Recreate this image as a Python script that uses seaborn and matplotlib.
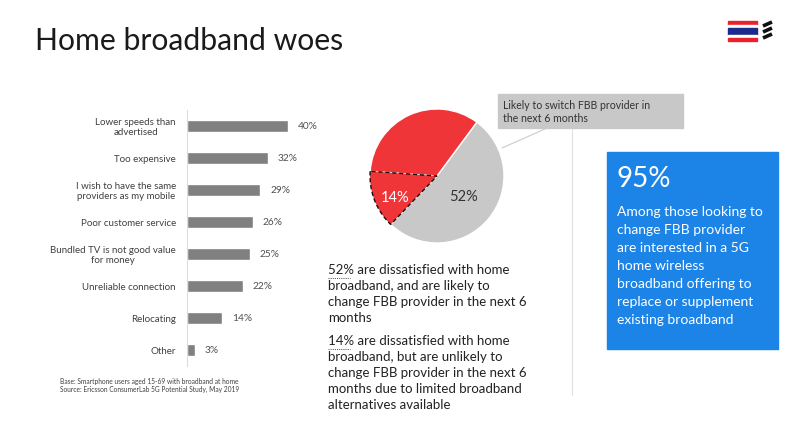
import matplotlib
matplotlib.use("Agg")
import matplotlib.pyplot as plt
import matplotlib.patches as mpatches
from matplotlib.lines import Line2D
import seaborn as sns
import pandas as pd

# --- dati ---
reasons = ["Lower speeds than\nadvertised", "Too expensive",
           "I wish to have the same\nproviders as my mobile", "Poor customer service",
           "Bundled TV is not good value\nfor money", "Unreliable connection",
           "Relocating", "Other"]
shares = [40, 32, 29, 26, 25, 22, 14, 3]

pie_labels = ["52%", "14%", ""]
pie_values = [52, 14, 34]

W, H = 800, 436


def fx(x):
    return x / W


def fy(y):
    return 1 - y / H


sns.set_theme(style="white")
plt.rcParams["font.family"] = ["Lato", "DejaVu Sans"]

fig = plt.figure(figsize=(8, 4.36), dpi=100)
fig.patch.set_facecolor("white")

# --- titolo ---
fig.text(fx(35), fy(50), "Home broadband woes", fontsize=21.7, color="#1a1a1a",
         va="baseline", ha="left")

# --- logo / bandiera ---
stripes = [(21.5, 25, "#E8212B"), (25, 27.7, "white"), (27.7, 35, "#1C2A8C"),
           (35, 37.7, "white"), (37.7, 41, "#E8212B")]
for y0, y1, c in stripes:
    fig.patches.append(mpatches.Rectangle((fx(728), fy(y1)), fx(757) - fx(728), fy(y0) - fy(y1),
                                          transform=fig.transFigure, color=c, zorder=5))
for yb in [24, 30, 36]:
    fig.lines.append(Line2D([fx(763), fx(772)], [fy(yb + 2), fy(yb - 2)], color="#111111",
                            lw=2.6, transform=fig.transFigure, solid_capstyle="butt"))

# --- bar chart ---
df = pd.DataFrame({"reason": reasons, "share": shares})
ax = fig.add_axes([fx(187), fy(366), fx(140), 256 / H])
sns.barplot(data=df, x="share", y="reason", color="#808080", width=0.38, ax=ax,
            saturation=1, orient="h")
ax.set_xlim(0, 140 / 2.53)
ax.set_ylim(7.5, -0.5)
ax.set_xlabel("")
ax.set_ylabel("")
ax.set_xticks([])
for s in ["top", "right", "bottom"]:
    ax.spines[s].set_visible(False)
ax.spines["left"].set_color("#DDDDDD")
ax.spines["left"].set_linewidth(0.8)
ax.tick_params(axis="y", length=0, pad=8, labelsize=7, labelcolor="#404040")
for t in ax.get_yticklabels():
    t.set_multialignment("center")
for i, v in enumerate(shares):
    ax.annotate(f"{v}%", (v, i), xytext=(7, 0), textcoords="offset points",
                va="center", ha="left", fontsize=7.3, color="#505050")
ax.patch.set_alpha(0)

# --- nota ---
fig.text(fx(60), fy(381), "Base: Smartphone users aged 15-69 with broadband at home",
         fontsize=4.8, color="#404040", va="center")
fig.text(fx(60), fy(389), "Source: Ericsson ConsumerLab 5G Potential Study, May 2019",
         fontsize=4.8, color="#404040", va="center")

# --- torta ---
cx, cy, r = 437, 176, 67
pax = fig.add_axes([fx(cx - r), fy(cy + r), 2 * r / W, 2 * r / H])
wedges, _ = pax.pie(pie_values, colors=["#C8C8C8", "#F03538", "#F03538"],
                    startangle=53.5, counterclock=False,
                    wedgeprops=dict(edgecolor="white", linewidth=1))
wedges[1].set_edgecolor("#111111")
wedges[1].set_linestyle((0, (3, 2)))
wedges[1].set_linewidth(1)
wedges[1].set_zorder(3)
pax.set_xlim(-1, 1)
pax.set_ylim(-1, 1)
pax.text(0.39, -0.31, pie_labels[0], fontsize=10.5, color="#333333", ha="center", va="center")
pax.text(-0.62, -0.33, pie_labels[1], fontsize=10.5, color="white", ha="center", va="center",
         zorder=5)

# --- callout ---
fig.patches.append(mpatches.Rectangle((fx(498), fy(128)), fx(683) - fx(498), fy(94) - fy(128),
                                      transform=fig.transFigure, color="#C8C8C8", zorder=1))
fig.text(fx(503), fy(105), "Likely to switch FBB provider in", fontsize=7.6, color="#333333",
         va="center")
fig.text(fx(503), fy(118), "the next 6 months", fontsize=7.6, color="#333333", va="center")
fig.lines.append(Line2D([fx(545), fx(502)], [fy(129), fy(148)], color="#CCCCCC", lw=0.8,
                        transform=fig.transFigure))
fig.lines.append(Line2D([fx(572), fx(572)], [fy(129), fy(395)], color="#E0E0E0", lw=0.8,
                        transform=fig.transFigure))

# --- testo ---
para1 = ["52% are dissatisfied with home", "broadband, and are likely to",
         "change FBB provider in the next 6", "months"]
para2 = ["14% are dissatisfied with home", "broadband, but are unlikely to",
         "change FBB provider in the next 6", "months due to limited broadband",
         "alternatives available"]
for i, line in enumerate(para1):
    fig.text(fx(328), fy(270 + 16 * i), line, fontsize=9.5, color="#222222", va="center")
for i, line in enumerate(para2):
    fig.text(fx(328), fy(341 + 16 * i), line, fontsize=9.5, color="#222222", va="center")
for yu in [278, 349]:
    fig.lines.append(Line2D([fx(328), fx(350)], [fy(yu), fy(yu)], color="#444444", lw=0.7,
                            ls=(0, (1, 1.2)), transform=fig.transFigure))

# --- box blu ---
fig.patches.append(mpatches.Rectangle((fx(607), fy(349)), fx(778) - fx(607), fy(152) - fy(349),
                                      transform=fig.transFigure, color="#1C84E6", zorder=1))
fig.text(fx(617), fy(179), "95%", fontsize=20, color="white", va="center")
box_lines = ["Among those looking to", "change FBB provider", "are interested in a 5G",
             "home wireless", "broadband offering to", "replace or supplement",
             "existing broadband"]
for i, line in enumerate(box_lines):
    fig.text(fx(617), fy(212 + 18 * i), line, fontsize=10, color="white", va="center")

fig.savefig("out.png", dpi=100)
